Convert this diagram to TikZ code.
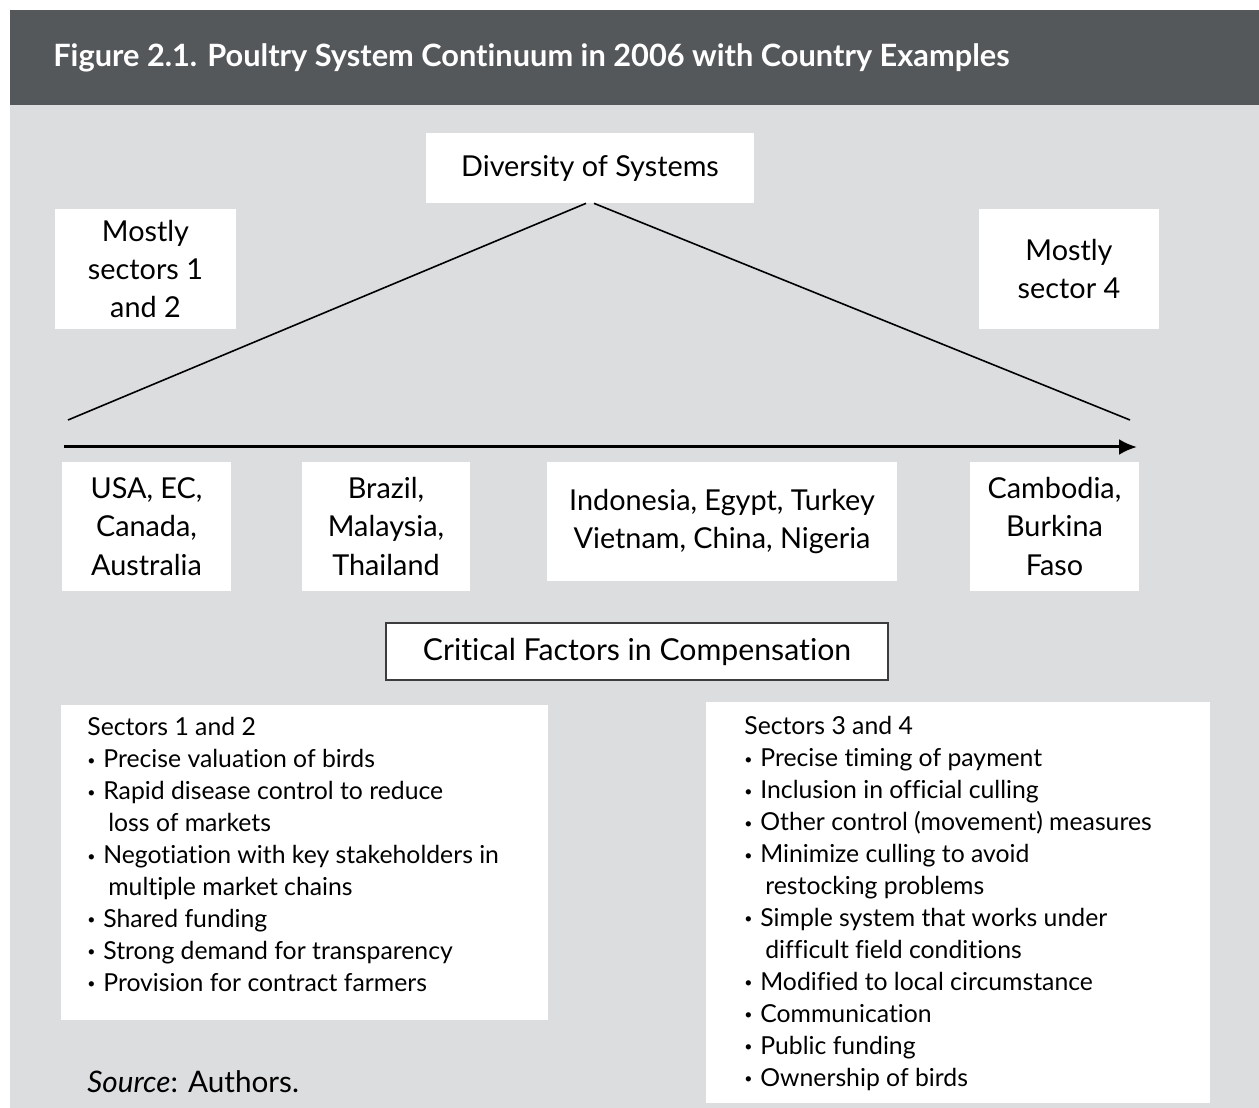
\documentclass[tikz,border=0pt]{standalone}
\usepackage{fontspec}
\setmainfont{Lato}[Ligatures=NoCommon]
\usetikzlibrary{positioning,arrows.meta}
\definecolor{headgray}{RGB}{85,88,91}
\definecolor{panelgray}{RGB}{220,221,223}
\definecolor{framegray}{RGB}{60,60,62}
\newlength\px
\setlength\px{0.02cm}
\newcommand\contline{\hspace*{21\px}}
\newcommand\itm{\makebox[16\px][l]{\raisebox{0.1em}{\footnotesize\textbullet}}}
\tikzset{
  whitebox/.style={fill=white, inner sep=0pt, align=center, font=\fontsize{16.4}{21.8}\selectfont},
  listtext/.style={inner sep=0pt, align=left, anchor=north west, font=\fontsize{14.1}{18.2}\selectfont},
  slope/.style={draw=black, line width=1.6\px},
}
\begin{document}
\begin{tikzpicture}[x=0.02cm, y=-0.02cm]
  \useasboundingbox (0,0) rectangle (1259,1108);
  % panel and heading band
  \fill[panelgray] (10,10) rectangle (1259,1108);
  \fill[headgray] (10,10) rectangle (1259,105);
  \node[anchor=west, inner sep=0pt, text=white, font=\bfseries\fontsize{17.5}{20}\selectfont] (title) at (53,58)
    {Figure 2.1. Poultry System Continuum in 2006 with Country Examples};

  % top boxes
  \node[whitebox, minimum width=328\px, minimum height=70\px] (div) at (590,168) {Diversity of Systems};
  \node[whitebox, minimum width=181\px, minimum height=120\px] (sec12) at (145.5,269) {Mostly\\sectors 1\\and 2};
  \node[whitebox, minimum width=180\px, minimum height=120\px] (sec4) at (1069,269) {Mostly\\sector 4};

  % the two slopes and the continuum arrow
  \coordinate (slopeL) at (68,420);
  \coordinate (slopeR) at (1130,420);
  \draw[slope] ([xshift=-4\px]div.south) -- (slopeL);
  \draw[slope] ([xshift=4\px]div.south) -- (slopeR);
  \coordinate (axisL) at (64,447);
  \coordinate (axisR) at (1137,447);
  \draw[line width=3\px, -{Latex[length=0.36cm, width=0.32cm]}] (axisL) -- (axisR);

  % country examples
  \node[whitebox, minimum width=169\px, minimum height=129\px] (ctyA) at (146.5,526.5) {USA, EC,\\Canada,\\Australia};
  \node[whitebox, minimum width=168\px, minimum height=129\px] (ctyB) at (386,526.5) {Brazil,\\Malaysia,\\Thailand};
  \node[whitebox, minimum width=350\px, minimum height=119\px] (ctyC) at (722,521.5) {Indonesia, Egypt, Turkey\\Vietnam, China, Nigeria};
  \node[whitebox, minimum width=169\px, minimum height=129\px] (ctyD) at (1054.5,526.5) {Cambodia,\\Burkina\\Faso};

  % critical factors
  \node[whitebox, draw=framegray, line width=1.2\px, minimum width=502\px, minimum height=57\px,
    font=\fontsize{17.2}{21.8}\selectfont] (crit) at (637,651.5) {Critical Factors in Compensation};

  % factor lists
  \node[fill=white, inner sep=0pt, minimum width=487\px, minimum height=315\px] (listL) at (304.5,862.5) {};
  \node[listtext] (listLtxt) at (87,717) {Sectors 1 and 2\\
    \itm Precise valuation of birds\\
    \itm Rapid disease control to reduce\\
    \contline loss of markets\\
    \itm Negotiation with key stakeholders in\\
    \contline multiple market chains\\
    \itm Shared funding\\
    \itm Strong demand for transparency\\
    \itm Provision for contract farmers};
  \node[fill=white, inner sep=0pt, minimum width=504\px, minimum height=401\px] (listR) at (958,902.5) {};
  \node[listtext] (listRtxt) at (744,716) {Sectors 3 and 4\\
    \itm Precise timing of payment\\
    \itm Inclusion in official culling\\
    \itm Other control (movement) measures\\
    \itm Minimize culling to avoid\\
    \contline restocking problems\\
    \itm Simple system that works under\\
    \contline difficult field conditions\\
    \itm Modified to local circumstance\\
    \itm Communication\\
    \itm Public funding\\
    \itm Ownership of birds};

  \node[anchor=west, inner sep=0pt, font=\fontsize{16.9}{20}\selectfont] (source) at (87,1082) {\textit{Source}: Authors.};
\end{tikzpicture}
\end{document}
